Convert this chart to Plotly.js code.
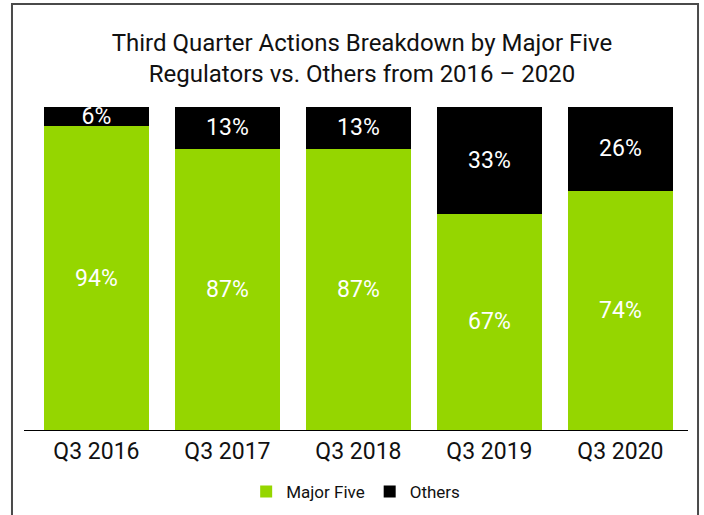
<!DOCTYPE html>
<html>
<head>
<meta charset="utf-8">
<script src="https://cdn.plot.ly/plotly-3.0.1.min.js"></script>
<style>
html,body{margin:0;padding:0;background:#fff;}
#chart{width:704px;height:515px;}
</style>
</head>
<body>
<div id="chart"></div>
<script>
const categories = ["Q3 2016", "Q3 2017", "Q3 2018", "Q3 2019", "Q3 2020"];
const majorFive = [94, 87, 87, 67, 74];
const others = [6, 13, 13, 33, 26];
const seriesNames = ["Major Five", "Others"];
const titleText = "Third Quarter Actions Breakdown by Major Five<br>Regulators vs. Others from 2016 \u2013 2020";

const FONT = "Roboto, 'Liberation Sans', Arial, sans-serif";

const common = {
  type: "bar",
  x: categories,
  texttemplate: "%{y}%",
  textposition: "inside",
  insidetextanchor: "middle",
  textangle: 0,
  constraintext: "none",
  textfont: {family: FONT, size: 23, color: "#ffffff"},
  hoverinfo: "skip"
};

const data = [
  Object.assign({}, common, {y: majorFive, name: seriesNames[0], marker: {color: "#95d600"}}),
  Object.assign({}, common, {y: others, name: seriesNames[1], marker: {color: "#000000"}})
];

const layout = {
  width: 704,
  height: 515,
  margin: {l: 24, r: 16, t: 107, b: 85, pad: 0},
  paper_bgcolor: "#ffffff",
  plot_bgcolor: "#ffffff",
  font: {family: FONT, color: "#111111"},
  barmode: "stack",
  bargap: 0.2,
  hovermode: false,
  title: {
    text: titleText,
    font: {family: FONT, size: 24, color: "#111111"},
    x: 0.509, xref: "paper", xanchor: "center",
    y: 0.901, yref: "container", yanchor: "top"
  },
  xaxis: {
    type: "category",
    range: [-0.553, 4.516],
    showline: true,
    linecolor: "#000000",
    linewidth: 1.3,
    ticks: "",
    automargin: false,
    showgrid: false,
    zeroline: false,
    tickfont: {family: FONT, size: 23, color: "#111111"},
    fixedrange: true
  },
  yaxis: {
    range: [0, 100],
    visible: false,
    automargin: false,
    showgrid: false,
    zeroline: false,
    fixedrange: true
  },
  showlegend: true,
  legend: {
    orientation: "h",
    traceorder: "normal",
    x: 0.4995, xref: "paper", xanchor: "center",
    y: 0.0447, yref: "container", yanchor: "middle",
    font: {family: FONT, size: 17, color: "#111111"},
    bgcolor: "rgba(0,0,0,0)"
  },
  shapes: [{
    type: "rect",
    xref: "paper", yref: "paper",
    x0: -0.0181, x1: 1.0151,
    y0: -0.5, y1: 1.3189,
    line: {color: "#4a4a4a", width: 2},
    fillcolor: "rgba(0,0,0,0)",
    layer: "below"
  }]
};

Plotly.newPlot("chart", data, layout, {displayModeBar: false, staticPlot: true});
</script>
</body>
</html>
